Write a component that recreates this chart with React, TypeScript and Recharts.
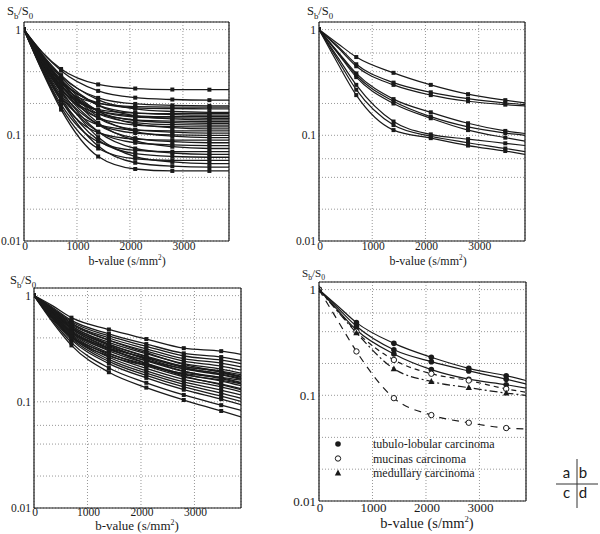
import React from 'react';
import { ComposedChart, Line, XAxis, YAxis, CartesianGrid } from 'recharts';

const FONT = '"Liberation Serif", "Times New Roman", serif';
const INK = '#1a1a1a';

// b-values (s/mm²): where the fitted curves are sampled, and where the signal was measured
const CURVE_B = [0, 350, 700, 1400, 2100, 2800, 3500, 3870];
const MEASURED_B = [0, 700, 1400, 2100, 2800, 3500];

const X_MAX = 3870;
const Y_MIN = 0.01;
const Y_MAX = 1.18;
const X_LABEL_TICKS = [0, 1000, 2000, 3000];
const X_MINOR_TICKS = [0, 200, 400, 600, 800, 1000, 1200, 1400, 1600, 1800, 2000, 2200, 2400, 2600, 2800, 3000, 3200, 3400, 3600, 3800];
const Y_GRID_TICKS = [0.01, 0.02, 0.04, 0.06, 0.1, 0.2, 0.4, 0.6, 1];
const Y_LABEL_TICKS = [0.01, 0.1, 1];

// panel a: Sb/S0 for every lesion of group a, sampled at CURVE_B
const PANEL_A = [
  [1, 0.605, 0.424, 0.303, 0.277, 0.271, 0.27, 0.27],
  [1, 0.605, 0.409, 0.263, 0.227, 0.218, 0.215, 0.215],
  [1, 0.562, 0.361, 0.226, 0.198, 0.192, 0.19, 0.19],
  [1, 0.485, 0.295, 0.2, 0.187, 0.185, 0.185, 0.185],
  [1, 0.521, 0.321, 0.203, 0.182, 0.179, 0.178, 0.178],
  [1, 0.58, 0.371, 0.216, 0.178, 0.168, 0.165, 0.165],
  [1, 0.469, 0.273, 0.175, 0.162, 0.16, 0.16, 0.16],
  [1, 0.543, 0.333, 0.193, 0.163, 0.157, 0.155, 0.155],
  [1, 0.5, 0.29, 0.17, 0.153, 0.15, 0.15, 0.15],
  [1, 0.502, 0.294, 0.171, 0.149, 0.146, 0.145, 0.145],
  [1, 0.567, 0.352, 0.192, 0.153, 0.143, 0.14, 0.14],
  [1, 0.48, 0.27, 0.16, 0.14, 0.136, 0.135, 0.135],
  [1, 0.529, 0.314, 0.169, 0.138, 0.132, 0.13, 0.13],
  [1, 0.53, 0.32, 0.16, 0.132, 0.126, 0.125, 0.125],
  [1, 0.487, 0.273, 0.146, 0.125, 0.121, 0.12, 0.12],
  [1, 0.555, 0.334, 0.169, 0.128, 0.118, 0.115, 0.115],
  [1, 0.438, 0.23, 0.126, 0.112, 0.11, 0.11, 0.11],
  [1, 0.516, 0.294, 0.145, 0.113, 0.107, 0.105, 0.105],
  [1, 0.475, 0.257, 0.127, 0.105, 0.101, 0.1, 0.1],
  [1, 0.545, 0.319, 0.15, 0.109, 0.098, 0.095, 0.095],
  [1, 0.425, 0.213, 0.106, 0.092, 0.09, 0.09, 0.09],
  [1, 0.505, 0.278, 0.126, 0.094, 0.087, 0.085, 0.085],
  [1, 0.464, 0.24, 0.108, 0.085, 0.081, 0.08, 0.08],
  [1, 0.535, 0.303, 0.131, 0.089, 0.078, 0.075, 0.075],
  [1, 0.412, 0.196, 0.087, 0.072, 0.07, 0.07, 0.07],
  [1, 0.495, 0.263, 0.108, 0.075, 0.068, 0.066, 0.066],
  [1, 0.453, 0.225, 0.09, 0.067, 0.063, 0.062, 0.062],
  [1, 0.405, 0.185, 0.075, 0.06, 0.058, 0.058, 0.058],
  [1, 0.488, 0.254, 0.096, 0.063, 0.056, 0.054, 0.054],
  [1, 0.446, 0.215, 0.079, 0.055, 0.051, 0.05, 0.05],
  [1, 0.397, 0.175, 0.063, 0.048, 0.046, 0.046, 0.046],
];

// panel b
const PANEL_B = [
  [1, 0.74, 0.55, 0.39, 0.3, 0.245, 0.215, 0.203],
  [1, 0.7, 0.47, 0.315, 0.255, 0.222, 0.202, 0.195],
  [1, 0.68, 0.45, 0.3, 0.24, 0.21, 0.195, 0.19],
  [1, 0.62, 0.385, 0.22, 0.165, 0.13, 0.11, 0.104],
  [1, 0.61, 0.37, 0.21, 0.15, 0.12, 0.105, 0.1],
  [1, 0.6, 0.355, 0.2, 0.145, 0.112, 0.095, 0.088],
  [1, 0.55, 0.3, 0.135, 0.102, 0.092, 0.084, 0.08],
  [1, 0.52, 0.27, 0.125, 0.098, 0.085, 0.075, 0.07],
  [1, 0.48, 0.24, 0.112, 0.094, 0.08, 0.071, 0.066],
];

// panel c
const PANEL_C = [
  [1, 0.56, 0.34, 0.19, 0.136, 0.104, 0.082, 0.072],
  [1, 0.58, 0.361, 0.208, 0.151, 0.116, 0.093, 0.083],
  [1, 0.6, 0.383, 0.229, 0.168, 0.13, 0.106, 0.094],
  [1, 0.611, 0.395, 0.24, 0.177, 0.138, 0.113, 0.101],
  [1, 0.623, 0.407, 0.251, 0.186, 0.146, 0.121, 0.108],
  [1, 0.634, 0.419, 0.263, 0.196, 0.154, 0.129, 0.116],
  [1, 0.646, 0.432, 0.275, 0.207, 0.163, 0.138, 0.124],
  [1, 0.657, 0.445, 0.288, 0.218, 0.172, 0.147, 0.133],
  [1, 0.669, 0.459, 0.302, 0.23, 0.182, 0.157, 0.142],
  [1, 0.681, 0.473, 0.316, 0.243, 0.193, 0.168, 0.152],
  [1, 0.694, 0.488, 0.331, 0.256, 0.204, 0.179, 0.163],
  [1, 0.706, 0.503, 0.347, 0.27, 0.216, 0.191, 0.174],
  [1, 0.719, 0.518, 0.363, 0.284, 0.229, 0.203, 0.186],
  [1, 0.732, 0.534, 0.381, 0.3, 0.242, 0.217, 0.199],
  [1, 0.745, 0.55, 0.399, 0.316, 0.255, 0.231, 0.213],
  [1, 0.758, 0.567, 0.418, 0.333, 0.27, 0.247, 0.229],
  [1, 0.772, 0.584, 0.437, 0.35, 0.286, 0.264, 0.245],
  [1, 0.8, 0.62, 0.48, 0.39, 0.32, 0.3, 0.28],
  [1, 0.623, 0.407, 0.27, 0.22, 0.185, 0.17, 0.16],
  [1, 0.694, 0.488, 0.32, 0.23, 0.175, 0.145, 0.13],
  [1, 0.67, 0.46, 0.32, 0.26, 0.215, 0.195, 0.18],
  [1, 0.745, 0.55, 0.38, 0.29, 0.225, 0.19, 0.17],
  [1, 0.64, 0.42, 0.285, 0.225, 0.18, 0.16, 0.148],
  [1, 0.7, 0.5, 0.34, 0.25, 0.195, 0.165, 0.15],
  [1, 0.66, 0.45, 0.31, 0.245, 0.205, 0.185, 0.172],
  [1, 0.72, 0.52, 0.35, 0.265, 0.21, 0.182, 0.166],
];

// panel d, by histology
const D_TUBULO = [
  [1, 0.7, 0.487, 0.31, 0.229, 0.18, 0.153, 0.138],
  [1, 0.67, 0.45, 0.27, 0.208, 0.17, 0.142, 0.128],
  [1, 0.64, 0.415, 0.246, 0.175, 0.142, 0.126, 0.117],
];
const D_MUCINOUS = [
  [1, 0.63, 0.4, 0.216, 0.16, 0.138, 0.115, 0.107],
  [1, 0.51, 0.26, 0.094, 0.065, 0.055, 0.049, 0.048],
];
const D_MEDULLARY = [[1, 0.62, 0.39, 0.178, 0.135, 0.118, 0.105, 0.1]];

type Marker = 'small' | 'filled' | 'open' | 'triangle';
interface Series {
  values: number[];
  marker: Marker;
  dash?: string;
}

const toPoints = (values: number[]) => CURVE_B.map((b, i) => ({ b, v: values[i] }));

const MarkerShape = ({ cx, cy, marker }: { cx: number; cy: number; marker: Marker }) => {
  if (marker === 'small') return <rect x={cx - 2} y={cy - 2} width={4} height={4} fill={INK} />;
  if (marker === 'filled') return <circle cx={cx} cy={cy} r={2.8} fill={INK} />;
  if (marker === 'open') return <circle cx={cx} cy={cy} r={2.7} fill="#fff" stroke={INK} strokeWidth={1} />;
  return <path d={`M${cx},${cy - 3.4} L${cx + 3.2},${cy + 2.4} L${cx - 3.2},${cy + 2.4} Z`} fill={INK} />;
};

const renderDot = (marker: Marker) => (props: any) => {
  const { cx, cy, payload, index } = props;
  if (cx == null || cy == null || !MEASURED_B.includes(payload.b)) return <g key={`d-${index}`} />;
  return (
    <g key={`d-${index}`}>
      <MarkerShape cx={cx} cy={cy} marker={marker} />
    </g>
  );
};

const makeXTick = (fs: number, drop: number) => (props: any) => {
  const { x, y, payload } = props;
  return (
    <text x={x + 1} y={y + drop} textAnchor="middle" fontSize={fs} fontFamily={FONT} fill={INK}>
      {String(payload.value)}
    </text>
  );
};

const makeYTick = (fs: number) => (props: any) => {
  const { x, y, payload } = props;
  if (!Y_LABEL_TICKS.includes(payload.value)) return <g />;
  return (
    <text x={x} y={y + fs * 0.35} textAnchor="end" fontSize={fs} fontFamily={FONT} fill={INK}>
      {String(payload.value)}
    </text>
  );
};

interface PanelProps {
  left: number;
  top: number;
  width: number;
  height: number;
  series: Series[];
  tickFont: number;
  tickDrop: number;
  lineWidth: number;
}

const Panel = ({ left, top, width, height, series, tickFont, tickDrop, lineWidth }: PanelProps) => {
  const xDomain = [0, X_MAX];
  const yDomain = [Y_MIN, Y_MAX];
  return (
    <div style={{ position: 'absolute', left: left - 30, top: top - 22 }}>
      <ComposedChart width={width + 40} height={height + 44} margin={{ top: 22, right: 10, bottom: 0, left: 0 }}>
        <CartesianGrid xAxisId="x" yAxisId="y" stroke="#8c8c8c" strokeDasharray="1 2" strokeWidth={0.9} />
        <XAxis
          xAxisId="x"
          type="number"
          dataKey="b"
          domain={xDomain}
          allowDataOverflow
          ticks={X_LABEL_TICKS}
          interval={0}
          height={22}
          tickSize={0}
          tickMargin={2}
          tickLine={false}
          axisLine={{ stroke: INK, strokeWidth: 1.2 }}
          tick={makeXTick(tickFont, tickDrop)}
        />
        <XAxis xAxisId="xb" type="number" dataKey="b" domain={xDomain} allowDataOverflow ticks={X_MINOR_TICKS} interval={0}
          orientation="bottom" mirror tick={false} tickSize={3} axisLine={false} tickLine={{ stroke: INK }} />
        <XAxis xAxisId="xt" type="number" dataKey="b" domain={xDomain} allowDataOverflow ticks={X_MINOR_TICKS} interval={0}
          orientation="top" mirror tick={false} tickSize={3} axisLine={{ stroke: INK, strokeWidth: 1.2 }} tickLine={{ stroke: INK }} />
        <YAxis
          yAxisId="y"
          type="number"
          scale="log"
          domain={yDomain}
          allowDataOverflow
          ticks={Y_GRID_TICKS}
          interval={0}
          width={30}
          tickSize={0}
          tickMargin={3}
          tickLine={false}
          axisLine={{ stroke: INK, strokeWidth: 1.2 }}
          tick={makeYTick(tickFont)}
        />
        <YAxis yAxisId="yl" type="number" scale="log" domain={yDomain} allowDataOverflow ticks={Y_GRID_TICKS} interval={0}
          orientation="left" mirror tick={false} tickSize={3} axisLine={false} tickLine={{ stroke: INK }} />
        <YAxis yAxisId="yr" type="number" scale="log" domain={yDomain} allowDataOverflow ticks={Y_GRID_TICKS} interval={0}
          orientation="right" mirror tick={false} tickSize={3} axisLine={{ stroke: INK, strokeWidth: 1.2 }} tickLine={{ stroke: INK }} />
        {series.map((s, i) => (
          <Line
            key={i}
            xAxisId="x"
            yAxisId="y"
            data={toPoints(s.values)}
            dataKey="v"
            type="monotone"
            stroke={INK}
            strokeWidth={lineWidth}
            strokeDasharray={s.dash}
            dot={renderDot(s.marker)}
            activeDot={false}
            isAnimationActive={false}
          />
        ))}
      </ComposedChart>
    </div>
  );
};

const SLabel = ({ left, top, size }: { left: number; top: number; size: number }) => (
  <div style={{ position: 'absolute', left, top, fontFamily: FONT, fontSize: size, color: INK, lineHeight: 1, whiteSpace: 'nowrap' }}>
    S<sub style={{ fontSize: size * 0.7 }}>b</sub>/S<sub style={{ fontSize: size * 0.7 }}>0</sub>
  </div>
);

const BLabel = ({ cx, top, size }: { cx: number; top: number; size: number }) => (
  <div style={{ position: 'absolute', left: cx - 100, width: 200, top, textAlign: 'center', fontFamily: FONT, fontSize: size, color: INK, lineHeight: 1, whiteSpace: 'nowrap' }}>
    b-value (s/mm<sup style={{ fontSize: size * 0.6, lineHeight: 0 }}>2</sup>)
  </div>
);

const LEGEND_ITEMS: { label: string; marker: Marker }[] = [
  { label: 'tubulo-lobular carcinoma', marker: 'filled' },
  { label: 'mucinas carcinoma', marker: 'open' },
  { label: 'medullary carcinoma', marker: 'triangle' },
];

const seriesOf = (rows: number[][], marker: Marker, dash?: string): Series[] => rows.map((values) => ({ values, marker, dash }));

const KEY_FONT = "Lato, 'Open Sans', sans-serif";

export default function App() {
  const dSeries: Series[] = [
    ...seriesOf(D_TUBULO, 'filled'),
    { values: D_MUCINOUS[0], marker: 'open', dash: '5 4' },
    { values: D_MUCINOUS[1], marker: 'open', dash: '7 6' },
    ...seriesOf(D_MEDULLARY, 'triangle', '8 3 2 3'),
  ];
  return (
    <div style={{ position: 'absolute', left: 0, top: 0, width: 600, height: 534, background: '#fff', overflow: 'hidden' }}>
      <Panel left={24} top={22} width={205} height={219} series={seriesOf(PANEL_A, 'small')} tickFont={11.5} tickDrop={6.5} lineWidth={1.3} />
      <Panel left={319} top={22} width={206} height={219} series={seriesOf(PANEL_B, 'small')} tickFont={11.5} tickDrop={6.5} lineWidth={1.2} />
      <Panel left={34} top={288} width={207} height={220} series={seriesOf(PANEL_C, 'small')} tickFont={11.5} tickDrop={6} lineWidth={1.3} />
      <Panel left={319} top={282} width={207} height={219} series={dSeries} tickFont={13} tickDrop={9} lineWidth={1.2} />

      <SLabel left={7} top={5} size={12.5} />
      <SLabel left={307} top={5} size={12.5} />
      <SLabel left={10} top={274} size={12.5} />
      <SLabel left={302} top={268} size={11} />

      <BLabel cx={127} top={255} size={12} />
      <BLabel cx={428} top={255} size={12} />
      <BLabel cx={137} top={519} size={13} />
      <BLabel cx={427} top={516} size={14.5} />

      {/* legend of panel d */}
      <svg style={{ position: 'absolute', left: 326, top: 436 }} width={200} height={46}>
        {LEGEND_ITEMS.map((item, i) => (
          <g key={item.label}>
            <MarkerShape cx={12} cy={8 + i * 14.5} marker={item.marker} />
            <text x={47} y={12 + i * 14.5} fontSize={12} fontFamily={FONT} fill={INK}>
              {item.label}
            </text>
          </g>
        ))}
      </svg>

      {/* panel key */}
      <svg style={{ position: 'absolute', left: 550, top: 455 }} width={50} height={56}>
        <line x1={6} y1={29} x2={48} y2={29} stroke="#333" strokeWidth={1} />
        <line x1={27} y1={4} x2={27} y2={53} stroke="#333" strokeWidth={1} />
        <text x={16.5} y={23} fontSize={15} fontFamily={KEY_FONT} textAnchor="middle" fill={INK}>a</text>
        <text x={33} y={23} fontSize={15} fontFamily={KEY_FONT} textAnchor="middle" fill={INK}>b</text>
        <text x={16.5} y={43} fontSize={15} fontFamily={KEY_FONT} textAnchor="middle" fill={INK}>c</text>
        <text x={33} y={43} fontSize={15} fontFamily={KEY_FONT} textAnchor="middle" fill={INK}>d</text>
      </svg>
    </div>
  );
}
